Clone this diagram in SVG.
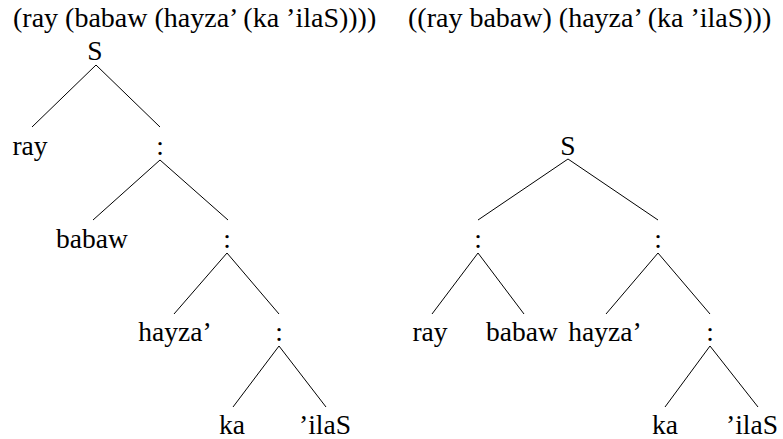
<svg xmlns="http://www.w3.org/2000/svg" width="783" height="439" viewBox="0 0 783 439">
  <style>
    text { font-family: "Liberation Serif", "Times New Roman", serif; font-size: 27.5px; fill: #000; text-anchor: middle; }
    text.title { text-anchor: start; font-size: 28px; }
    .edges line { stroke: #000; stroke-width: 1; }
  </style>
  <rect width="783" height="439" fill="#fff"/>

  <!-- bracketings -->
  <text class="title" x="13" y="27">(ray (babaw (hayza’ (ka ’ilaS))))</text>
  <text class="title" x="408" y="27">((ray babaw) (hayza’ (ka ’ilaS)))</text>

  <!-- right-branching tree -->
  <g id="left-tree">
    <g class="edges">
      <line x1="96" y1="65" x2="32" y2="127"/>
      <line x1="96" y1="65" x2="160" y2="127"/>
      <line x1="160" y1="160" x2="93" y2="220"/>
      <line x1="160" y1="160" x2="228" y2="220"/>
      <line x1="227" y1="253" x2="174" y2="314"/>
      <line x1="227" y1="253" x2="279" y2="314"/>
      <line x1="279" y1="346" x2="233" y2="407"/>
      <line x1="279" y1="346" x2="326" y2="407"/>
    </g>
    <g id="L-S"><text x="95" y="60">S</text></g>
    <g id="L-ray"><text x="30" y="155">ray</text></g>
    <g id="L-c1"><text x="160" y="155">:</text></g>
    <g id="L-babaw"><text x="92" y="248">babaw</text></g>
    <g id="L-c2"><text x="227" y="248">:</text></g>
    <g id="L-hayza"><text x="175" y="341">hayza’</text></g>
    <g id="L-c3"><text x="279" y="341">:</text></g>
    <g id="L-ka"><text x="232" y="434">ka</text></g>
    <g id="L-ilaS"><text x="325" y="434">’ilaS</text></g>
  </g>

  <!-- balanced tree -->
  <g id="right-tree">
    <g class="edges">
      <line x1="568" y1="159" x2="478" y2="220"/>
      <line x1="568" y1="159" x2="658" y2="220"/>
      <line x1="478" y1="253" x2="432" y2="314"/>
      <line x1="478" y1="253" x2="524" y2="314"/>
      <line x1="658" y1="253" x2="606" y2="314"/>
      <line x1="658" y1="253" x2="710" y2="314"/>
      <line x1="710" y1="346" x2="665" y2="407"/>
      <line x1="710" y1="346" x2="758" y2="407"/>
    </g>
    <g id="R-S"><text x="568" y="155">S</text></g>
    <g id="R-c1"><text x="478" y="248">:</text></g>
    <g id="R-c2"><text x="658" y="248">:</text></g>
    <g id="R-ray"><text x="430" y="341">ray</text></g>
    <g id="R-babaw"><text x="522" y="341">babaw</text></g>
    <g id="R-hayza"><text x="605" y="341">hayza’</text></g>
    <g id="R-c3"><text x="710" y="341">:</text></g>
    <g id="R-ka"><text x="665" y="434">ka</text></g>
    <g id="R-ilaS"><text x="752" y="434">’ilaS</text></g>
  </g>
</svg>
